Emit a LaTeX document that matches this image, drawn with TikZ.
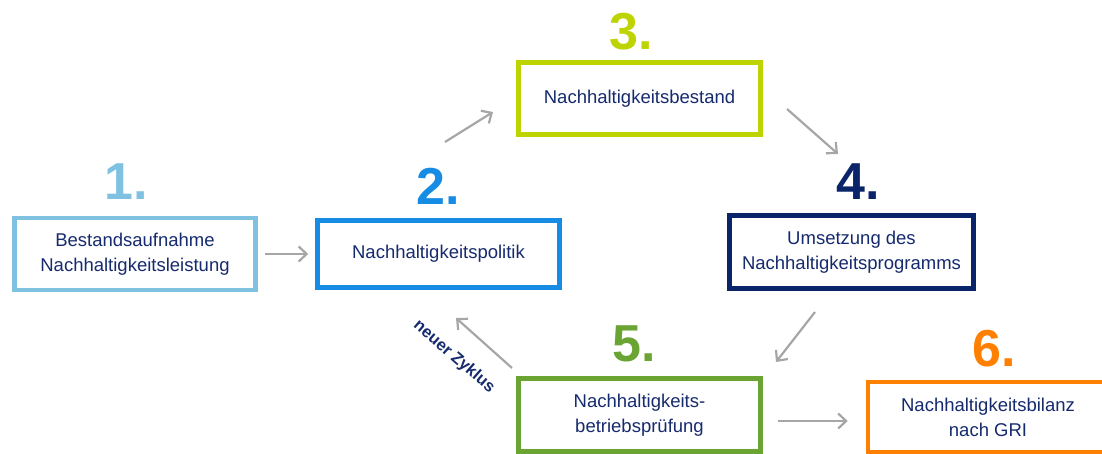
\documentclass[tikz,border=0pt]{standalone}
\usepackage{fontspec}
\setmainfont{Liberation Sans}
\usetikzlibrary{arrows.meta}

\definecolor{stepone}{RGB}{127,193,225}
\definecolor{steptwo}{RGB}{22,140,228}
\definecolor{stepthree}{RGB}{190,212,0}
\definecolor{stepfour}{RGB}{10,36,106}
\definecolor{stepfive}{RGB}{106,165,51}
\definecolor{stepsix}{RGB}{255,128,0}
\definecolor{textblue}{RGB}{22,42,110}
\definecolor{arrowgray}{RGB}{166,166,166}

\begin{document}
\begin{tikzpicture}[
    x = 1pt,
    y = -1pt,
    >={Straight Barb[length=8pt,width=15pt]},
    phase/.style = {
      draw = #1,
      line width = 4.5pt,
      fill = white,
      rectangle,
      align = center,
      text = textblue,
      font = \fontsize{18.5}{25}\selectfont,
      minimum height = 72pt
    },
    num/.style = {
      text = #1,
      font = \fontsize{52}{52}\selectfont\bfseries,
      inner sep = 0pt
    },
    flow/.style = {
      ->,
      draw = arrowgray,
      line width = 2.2pt
    }
  ]
\useasboundingbox (0,0) rectangle (1102,454);

% boxes
\node[phase=stepone,   minimum width=241pt] (bestand)  at (135,254)   {Bestandsaufnahme\\Nachhaltigkeitsleistung};
\node[phase=steptwo,   minimum width=242pt, minimum height=67pt] (politik)  at (438.5,254) {Nachhaltigkeitspolitik};
\node[phase=stepthree, minimum width=242pt] (inventar) at (639.5,98.5) {Nachhaltigkeitsbestand};
\node[phase=stepfour,  minimum width=244pt, minimum height=73pt] (programm) at (851.5,252) {Umsetzung des\\Nachhaltigkeitsprogramms};
\node[phase=stepfive,  minimum width=242pt, minimum height=73pt] (pruefung) at (639.5,415) {Nachhaltigkeits-\\betriebsprüfung};
\node[phase=stepsix,   minimum width=240pt, minimum height=70pt] (bilanz)   at (988,417)   {Nachhaltigkeitsbilanz\\nach GRI};

% numbers
\node[num=stepone]   (n1) at (126,182) {1.};
\node[num=steptwo]   (n2) at (438,186) {2.};
\node[num=stepthree] (n3) at (631,32)  {3.};
\node[num=stepfour]  (n4) at (858,182) {4.};
\node[num=stepfive]  (n5) at (634,344) {5.};
\node[num=stepsix]   (n6) at (994,349) {6.};

% arrows
\coordinate (a2s) at (445,142);
\coordinate (a2e) at (493,112);
\coordinate (a3s) at (787,109);
\coordinate (a3e) at (838,154);
\coordinate (a4s) at (815,312);
\coordinate (a4e) at (776,362);
\coordinate (a5s) at (512,368);
\coordinate (a5e) at (456,318);

\draw[flow, shorten <=7pt, shorten >=7pt] (bestand.east) -- (politik.west);
\draw[flow] (a2s) -- (a2e);
\draw[flow] (a3s) -- (a3e);
\draw[flow] (a4s) -- (a4e);
\draw[flow] (a5s) -- (a5e);
\draw[flow, shorten <=15pt, shorten >=18pt] (pruefung.east |- 0,421) -- (bilanz.west |- 0,421);

\node[rotate=-41, text=textblue, font=\fontsize{16.5}{16.5}\selectfont\bfseries] (zyklus) at (454,357) {neuer Zyklus};

\end{tikzpicture}
\end{document}
